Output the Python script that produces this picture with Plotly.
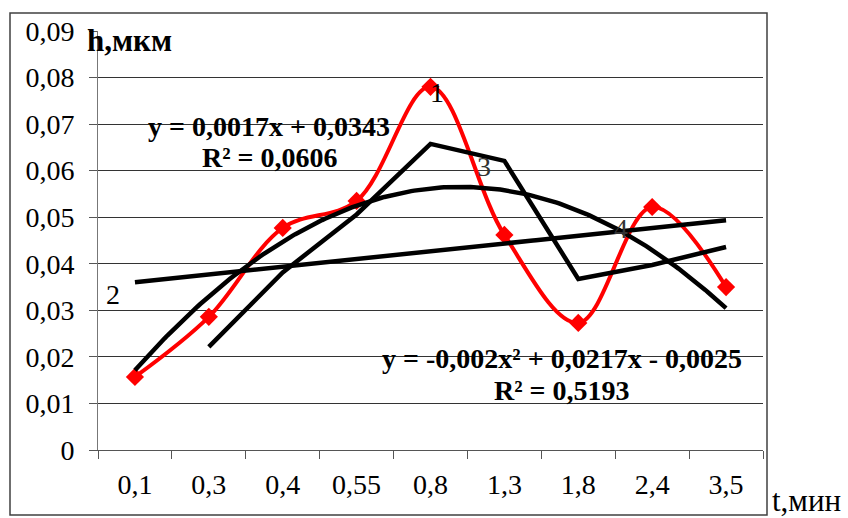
import numpy as np
import plotly.graph_objects as go

# ---- data ----
categories = ["0,1", "0,3", "0,4", "0,55", "0,8", "1,3", "1,8", "2,4", "3,5"]
h_values = [0.0157, 0.0286, 0.0477, 0.0535, 0.078, 0.0462, 0.0273, 0.0522, 0.035]
y_ticks = [0, 0.01, 0.02, 0.03, 0.04, 0.05, 0.06, 0.07, 0.08, 0.09]
y_tick_labels = ["0", "0,01", "0,02", "0,03", "0,04", "0,05", "0,06", "0,07", "0,08", "0,09"]

x_idx = np.arange(1, len(categories) + 1)
h = np.array(h_values)

# trendlines (as in the spreadsheet): linear, 2nd-order polynomial, 2-period moving average
lin_c = np.polyfit(x_idx, h, 1)
poly_c = np.polyfit(x_idx, h, 2)
x_fine = np.linspace(1, len(categories), 200)
ma_x = x_idx[1:]
ma_y = (h[:-1] + h[1:]) / 2

# ---- layout geometry (pixels) ----
W, H = 848, 518
L, R, T, B = 98, 763, 31, 450


def px(x):
    return (x - L) / (R - L)


def py(y):
    return (B - y) / (B - T)


SERIF = "Liberation Serif, Times New Roman, serif"
TICK_SIZE = 28
EQ_SIZE = 28

fig = go.Figure()

fig.add_trace(go.Scatter(
    x=x_idx, y=h, mode="lines+markers",
    line=dict(color="#FF0000", width=4, shape="spline", smoothing=1.0),
    marker=dict(symbol="diamond", size=14, color="#FF0000"),
    showlegend=False, hoverinfo="skip"))

fig.add_trace(go.Scatter(
    x=x_fine, y=np.polyval(lin_c, x_fine), mode="lines",
    line=dict(color="#000000", width=4.5), showlegend=False, hoverinfo="skip"))

fig.add_trace(go.Scatter(
    x=x_fine, y=np.polyval(poly_c, x_fine), mode="lines",
    line=dict(color="#000000", width=4.5), showlegend=False, hoverinfo="skip"))

fig.add_trace(go.Scatter(
    x=ma_x, y=ma_y, mode="lines",
    line=dict(color="#000000", width=4.5), showlegend=False, hoverinfo="skip"))

annotations = [
    dict(text="<b>h,мкм</b>", x=px(85), y=py(40), xanchor="left", yanchor="middle",
         font=dict(size=31, family=SERIF, color="#000")),
    dict(text="1", x=px(437), y=py(92), xanchor="center", yanchor="middle",
         font=dict(size=TICK_SIZE, family=SERIF, color="#000")),
    dict(text="2", x=px(113), y=py(294), xanchor="center", yanchor="middle",
         font=dict(size=TICK_SIZE, family=SERIF, color="#000")),
    dict(text="3", x=px(484), y=py(166), xanchor="center", yanchor="middle",
         font=dict(size=TICK_SIZE, family=SERIF, color="#333")),
    dict(text="4", x=px(621), y=py(228), xanchor="center", yanchor="middle",
         font=dict(size=TICK_SIZE, family=SERIF, color="#333")),
    dict(text="<b>y = 0,0017x + 0,0343</b>", x=px(269), y=py(127), xanchor="center",
         yanchor="middle", font=dict(size=EQ_SIZE, family=SERIF, color="#000")),
    dict(text="<b>R² = 0,0606</b>", x=px(270), y=py(157), xanchor="center",
         yanchor="middle", font=dict(size=EQ_SIZE, family=SERIF, color="#000")),
    dict(text="<b>y = -0,002x² + 0,0217x - 0,0025</b>", x=px(562), y=py(358),
         xanchor="center", yanchor="middle", font=dict(size=EQ_SIZE, family=SERIF, color="#000")),
    dict(text="<b>R² = 0,5193</b>", x=px(562), y=py(390), xanchor="center",
         yanchor="middle", font=dict(size=EQ_SIZE, family=SERIF, color="#000")),
    dict(text="t,мин", x=px(770), y=py(500), xanchor="left", yanchor="middle",
         font=dict(size=31, family=SERIF, color="#000")),
]
for a in annotations:
    a.update(xref="paper", yref="paper", showarrow=False)

fig.update_layout(
    width=W, height=H,
    margin=dict(l=L, r=W - R, t=T, b=H - B, pad=0, autoexpand=False),
    paper_bgcolor="white", plot_bgcolor="white",
    font=dict(family=SERIF, size=TICK_SIZE, color="#000"),
    annotations=annotations,
    shapes=[dict(type="rect", xref="paper", yref="paper",
                 x0=px(10), x1=px(767), y0=py(515), y1=py(13),
                 line=dict(color="#404040", width=1.5), fillcolor="rgba(0,0,0,0)",
                 layer="below")],
)

fig.update_xaxes(
    range=[0.5, len(categories) + 0.5],
    tickvals=list(x_idx), ticktext=categories,
    ticks="outside", ticklen=8, tickcolor="rgba(0,0,0,0)",
    ticklabelstandoff=1,
    minor=dict(tick0=0.5, dtick=1, ticks="outside", ticklen=8, tickcolor="#555",
               tickwidth=1, showgrid=False),
    showgrid=False, zeroline=False, automargin=False,
    showline=True, linecolor="#555", linewidth=1,
    tickfont=dict(size=TICK_SIZE, family=SERIF, color="#000"),
)

fig.update_yaxes(
    range=[0, 0.09],
    tickvals=y_ticks, ticktext=y_tick_labels,
    ticks="outside", ticklen=8, tickcolor="#555", tickwidth=1,
    ticklabelstandoff=9, automargin=False,
    showgrid=True, gridcolor="#333", gridwidth=1,
    zeroline=False,
    showline=True, linecolor="#777", linewidth=1,
    tickfont=dict(size=TICK_SIZE, family=SERIF, color="#000"),
)

fig.write_html(
    "out.html",
    config={"displayModeBar": False, "staticPlot": True},
    post_script="document.body.style.margin='0';document.body.style.overflow='hidden';",
)
